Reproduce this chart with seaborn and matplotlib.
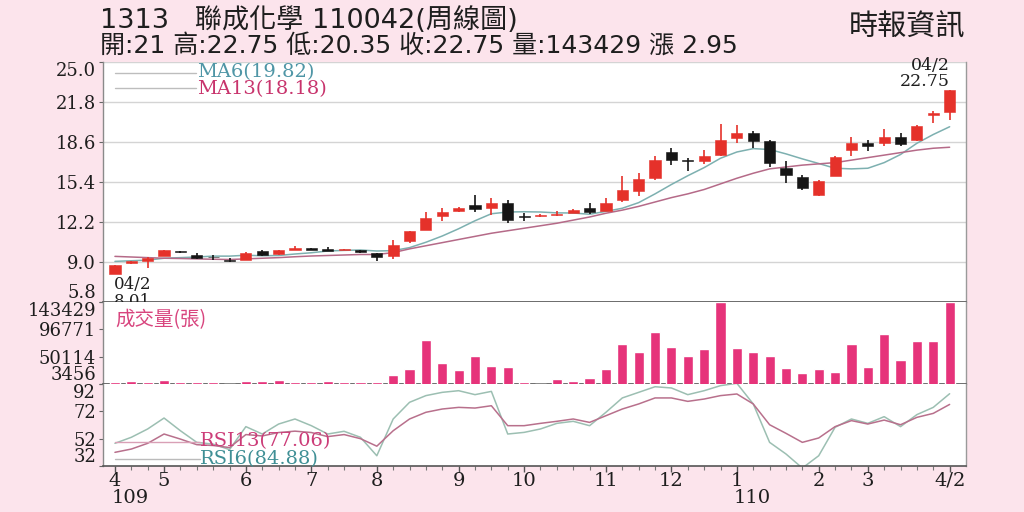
import numpy as np
import pandas as pd
import matplotlib
matplotlib.use("Agg")
import matplotlib.pyplot as plt
import seaborn as sns
from matplotlib.transforms import blended_transform_factory

# ---------------- data (weekly candles) ----------------
opens = [8.05, 8.9, 9.1, 9.5, 9.85, 9.6, 9.4, 9.2, 9.2, 9.85,
         9.65, 9.98, 10.1, 10.05, 9.99, 9.95, 9.7, 9.45, 10.7, 11.6,
         12.7, 13.1, 13.55, 13.3, 13.75, 12.65, 12.65, 12.78, 12.95, 13.3,
         13.1, 14.0, 14.7, 15.75, 17.8, 17.15, 17.1, 17.56, 18.9, 19.3,
         18.7, 16.55, 15.8, 14.4, 15.9, 17.98, 18.55, 18.5, 19.0, 18.75,
         20.8, 21.0]
highs = [8.8, 9.1, 9.4, 10.0, 9.9, 9.7, 9.55, 9.3, 9.8, 10.0,
         10.0, 10.3, 10.15, 10.2, 10.05, 10.0, 9.75, 10.75, 11.5, 13.0,
         13.3, 13.4, 14.35, 14.15, 14.0, 12.95, 12.85, 13.05, 13.25, 13.7,
         14.1, 15.9, 16.1, 17.45, 18.1, 17.35, 17.95, 20.05, 19.95, 19.45,
         18.75, 17.1, 15.95, 15.6, 17.45, 19.0, 18.8, 19.6, 19.3, 19.95,
         21.05, 22.75]
lows = [8.01, 8.85, 8.5, 9.5, 9.7, 9.25, 9.2, 9.0, 9.15, 9.45,
        9.6, 9.95, 9.98, 9.9, 9.95, 9.75, 9.05, 9.25, 10.5, 11.55,
        12.3, 13.0, 13.0, 12.8, 12.15, 12.3, 12.6, 12.65, 12.9, 12.85,
        13.05, 13.8, 14.3, 15.55, 16.8, 16.3, 16.85, 17.5, 18.5, 18.1,
        16.6, 15.3, 14.8, 14.3, 15.85, 17.5, 17.85, 18.3, 18.25, 18.7,
        20.1, 20.35]
closes = [8.75, 9.05, 9.35, 9.95, 9.78, 9.35, 9.38, 9.05, 9.75, 9.55,
          9.95, 10.15, 10.0, 9.92, 10.01, 9.8, 9.4, 10.35, 11.45, 12.5,
          12.98, 13.3, 13.25, 13.7, 12.4, 12.6, 12.8, 12.82, 13.2, 13.02,
          13.7, 14.75, 15.65, 17.2, 17.2, 17.05, 17.5, 18.75, 19.3, 18.65,
          16.95, 15.95, 14.9, 15.5, 17.4, 18.5, 18.3, 19.0, 18.45, 19.9,
          20.9, 22.75]
volumes = [7400, 9100, 7400, 10800, 7400, 7400, 6900, 3000, 8000, 9100,
           10300, 7400, 7400, 8600, 6300, 6900, 6900, 18300, 28600, 79400,
           39500, 26900, 50900, 33800, 32100, 6300, 3000, 12000, 8000, 13700,
           29200, 72000, 58300, 91500, 66400, 52000, 62900, 142800, 65200, 58300,
           52000, 30900, 22300, 29700, 24600, 72000, 33100, 89200, 45100, 76600,
           76600, 143429]
ma6 = [9.05, 9.1, 9.15, 9.3, 9.35, 9.4, 9.47, 9.47, 9.54, 9.5,
       9.52, 9.64, 9.74, 9.88, 9.93, 9.96, 9.88, 9.91, 10.15, 10.58,
       11.08, 11.66, 12.3, 12.86, 13.0, 13.02, 13.0, 12.93, 12.92, 12.82,
       13.05, 13.3, 13.75, 14.45, 15.2, 15.9, 16.55, 17.3, 17.8, 18.07,
       18.0, 17.65, 17.25, 16.88, 16.5, 16.45, 16.5, 16.95, 17.6, 18.5,
       19.2, 19.82]
ma13 = [9.45, 9.4, 9.35, 9.3, 9.28, 9.25, 9.22, 9.2, 9.25, 9.3,
        9.35, 9.42, 9.48, 9.52, 9.56, 9.6, 9.6, 9.75, 10.05, 10.3,
        10.55, 10.8, 11.05, 11.3, 11.5, 11.7, 11.9, 12.1, 12.35, 12.6,
        12.9, 13.15, 13.45, 13.8, 14.15, 14.45, 14.8, 15.25, 15.7, 16.1,
        16.45, 16.6, 16.75, 16.85, 16.95, 17.15, 17.35, 17.55, 17.75, 17.95,
        18.1, 18.18]
rsi6 = [48.6, 53.0, 59.1, 67.1, 57.8, 49.3, 48.0, 44.0, 60.8, 55.4,
        62.7, 66.4, 61.5, 55.4, 57.4, 53.0, 39.5, 66.4, 78.6, 83.5,
        85.9, 87.1, 84.2, 86.6, 55.4, 56.6, 59.1, 63.2, 64.7, 61.5,
        71.3, 81.8, 85.9, 90.0, 89.1, 84.2, 87.1, 90.8, 92.5, 77.4,
        49.3, 40.8, 30.5, 39.5, 60.3, 66.4, 63.2, 68.1, 60.8, 69.6,
        74.9, 84.88]
rsi13 = [42.0, 44.4, 48.6, 55.4, 51.7, 47.6, 47.0, 45.5, 55.0, 54.0,
         56.5, 57.5, 56.5, 53.5, 55.0, 52.0, 46.5, 57.8, 66.4, 71.3,
         73.7, 74.9, 74.4, 76.1, 61.5, 61.5, 63.2, 64.7, 66.4, 63.9,
         68.8, 73.7, 77.4, 81.8, 81.8, 79.3, 81.0, 83.5, 84.7, 77.4,
         62.2, 55.9, 49.3, 52.5, 60.8, 65.2, 62.7, 65.6, 62.2, 67.6,
         70.5, 77.06]

month_pos = [0, 3, 8, 12, 16, 21, 25, 30, 34, 38, 43, 46, 51]
month_labels = ['4', '5', '6', '7', '8', '9', '10', '11', '12', '1', '2', '3', '4/2']
year_pos = [0, 38]
year_labels = ['109', '110']
price_ticks = [5.8, 9.0, 12.2, 15.4, 18.6, 21.8, 25.0]
vol_ticks = [3456, 50114, 96771, 143429]
rsi_ticks = [32, 52, 72, 92]

title1 = '1313   聯成化學 110042(周線圖)'
title2 = '開:21 高:22.75 低:20.35 收:22.75 量:143429 漲 2.95'
source = '時報資訊'

# ---------------- styling ----------------
sns.set_theme(style='white')
plt.rcParams['font.family'] = ['DejaVu Serif', 'Noto Sans CJK TC']
plt.rcParams['axes.unicode_minus'] = False

BG = '#FCE4EC'
RED = '#E5312A'
BLACK = '#151515'
VOL = '#E6337A'
MA6_C = '#7DB0B0'
MA13_C = '#B56A88'
RSI6_C = '#9CBFB2'
RSI13_C = '#B8708C'
TXT = '#1E1E1E'

n = len(closes)
df = pd.DataFrame({
    'idx': np.arange(n),
    'open': opens, 'high': highs, 'low': lows, 'close': closes,
    'vol': volumes, 'ma6': ma6, 'ma13': ma13, 'rsi6': rsi6, 'rsi13': rsi13,
})

fig = plt.figure(figsize=(10.24, 5.12), dpi=100, facecolor=BG)
L, W = 103 / 1024, 863 / 1024
ax_p = fig.add_axes([L, 1 - 302 / 512, W, 240 / 512])
ax_v = fig.add_axes([L, 1 - 384 / 512, W, 82 / 512], sharex=ax_p)
ax_r = fig.add_axes([L, 1 - 466 / 512, W, 82 / 512], sharex=ax_p)
for ax in (ax_p, ax_v, ax_r):
    ax.set_facecolor('white')

# ---------------- price panel ----------------
up = df['close'] >= df['open']
ccols = np.where(up, RED, BLACK)
body_lo = np.minimum(df['open'], df['close'])
body_h = np.maximum((df['close'] - df['open']).abs(), 0.05)
ax_p.vlines(df['idx'], df['low'], df['high'], colors=ccols, lw=1.2, zorder=3)
ax_p.bar(df['idx'], body_h, bottom=body_lo, width=0.68, color=ccols,
         edgecolor=ccols, lw=0.4, zorder=4)
sns.lineplot(data=df, x='idx', y='ma6', ax=ax_p, color=MA6_C, lw=1.1,
             legend=False, zorder=2)
sns.lineplot(data=df, x='idx', y='ma13', ax=ax_p, color=MA13_C, lw=1.1,
             legend=False, zorder=2)
ax_p.set_ylim(price_ticks[0], price_ticks[-1])
ax_p.grid(axis='y', color='#D4D4D4', lw=1.0)
ax_p.grid(axis='x', visible=False)
ax_p.set_axisbelow(True)

# legend-like labels
ax_p.plot([0.014, 0.108], [0.955, 0.955], transform=ax_p.transAxes,
          color='#BDBDBD', lw=1)
ax_p.plot([0.014, 0.108], [0.89, 0.89], transform=ax_p.transAxes,
          color='#BDBDBD', lw=1)
ax_p.text(0.109, 0.957, f'MA6({ma6[-1]:.2f})', transform=ax_p.transAxes,
          color='#4F96A6', fontsize=14, va='center', ha='left')
ax_p.text(0.109, 0.887, f'MA13({ma13[-1]:.2f})', transform=ax_p.transAxes,
          color='#C8336C', fontsize=14, va='center', ha='left')

# low / high annotations
i_lo = int(np.argmin(lows))
i_hi = int(np.argmax(highs))
ax_p.annotate(f'04/2\n{lows[i_lo]:.2f}', xy=(i_lo, lows[i_lo]), xytext=(-1, -1.5),
              textcoords='offset points', ha='left', va='top', fontsize=12,
              linespacing=0.95, color=TXT, annotation_clip=False, zorder=10)
ax_p.annotate(f'04/2\n{highs[i_hi]:.2f}', xy=(i_hi, highs[i_hi]), xytext=(0, 0),
              textcoords='offset points', ha='right', va='bottom', fontsize=12.5,
              linespacing=0.95, multialignment='right', color=TXT,
              annotation_clip=False)

# ---------------- volume panel ----------------
sns.barplot(data=df, x='idx', y='vol', ax=ax_v, native_scale=True, color=VOL,
            saturation=1, width=0.62, errorbar=None, zorder=3)
ax_v.set_ylim(vol_ticks[0], vol_ticks[-1])
ax_v.text(0.014, 0.78, '成交量(張)', transform=ax_v.transAxes, color='#D8457E',
          fontsize=14, va='center', ha='left', family=['Noto Sans CJK TC'])

# ---------------- RSI panel ----------------
sns.lineplot(data=df, x='idx', y='rsi6', ax=ax_r, color=RSI6_C, lw=1.1, legend=False)
sns.lineplot(data=df, x='idx', y='rsi13', ax=ax_r, color=RSI13_C, lw=1.1, legend=False)
ax_r.set_ylim(rsi_ticks[0], rsi_ticks[-1])
ax_r.plot([0.014, 0.112], [0.29, 0.29], transform=ax_r.transAxes, color='#D9A0B6', lw=1)
ax_r.plot([0.014, 0.112], [0.09, 0.09], transform=ax_r.transAxes, color='#BBBBBB', lw=1)
ax_r.text(0.112, 0.31, f'RSI13({rsi13[-1]:.2f})', transform=ax_r.transAxes,
          color='#CC3C78', fontsize=14, va='center', ha='left')
ax_r.text(0.112, 0.085, f'RSI6({rsi6[-1]:.2f})', transform=ax_r.transAxes,
          color='#3F8F95', fontsize=14, va='center', ha='left')

# ---------------- axes cosmetics ----------------
def fmt_y(ax, ticks, labels):
    ax.set_yticks(ticks)
    ax.set_yticklabels(labels)
    ax.tick_params(axis='y', labelsize=13, length=3, width=0.8, pad=2,
                   colors='#666666', labelcolor=TXT, left=True)
    tl = ax.get_yticklabels()
    tl[0].set_va('bottom')
    tl[-1].set_va('top')
    ax.set_ylabel('')
    ax.set_xlabel('')

fmt_y(ax_p, price_ticks, [f'{t:.1f}' for t in price_ticks])
fmt_y(ax_v, vol_ticks, [str(t) for t in vol_ticks])
fmt_y(ax_r, rsi_ticks, [str(t) for t in rsi_ticks])

for ax in (ax_p, ax_v, ax_r):
    ax.spines['top'].set_visible(False)
    ax.spines['left'].set_color('#8A8A8A')
    ax.spines['right'].set_color('#9A9A9A')
    ax.spines['bottom'].set_color('#555555')
    for s in ('left', 'right'):
        ax.spines[s].set_linewidth(1.0)
    ax.spines['bottom'].set_linewidth(1.2)

ax_r.set_xlim(-0.73, 52.0)
ax_r.set_xticks(month_pos)
ax_r.set_xticklabels(month_labels)
ax_r.set_xticks(df['idx'], minor=True)
ax_r.tick_params(axis='x', which='major', labelsize=14, length=4, width=1,
                 colors='#555555', labelcolor=TXT, pad=0, bottom=True)
ax_r.tick_params(axis='x', which='minor', length=3, width=0.8,
                 colors='#777777', bottom=True)
for ax in (ax_p, ax_v):
    ax.tick_params(axis='x', which='both', bottom=False, labelbottom=False)
trans = blended_transform_factory(ax_r.transData, ax_r.transAxes)
for p, lab in zip(year_pos, year_labels):
    ax_r.text(p - 0.2, -0.39, lab, transform=trans, ha='left', va='center',
              fontsize=14, color=TXT)

# ---------------- header ----------------
hdr_font = ['DejaVu Sans', 'Noto Sans CJK TC']
fig.text(100 / 1024, 1 - 21 / 512, title1, fontsize=19.5, color=TXT, ha='left',
         va='center', family=hdr_font)
fig.text(100 / 1024, 1 - 46 / 512, title2, fontsize=18, color=TXT, ha='left',
         va='center', family=hdr_font)
fig.text(965 / 1024, 1 - 27 / 512, source, fontsize=21, color=TXT, ha='right',
         va='center', family=['Noto Sans CJK TC'])

fig.savefig('out.png', dpi=100, facecolor=BG)
